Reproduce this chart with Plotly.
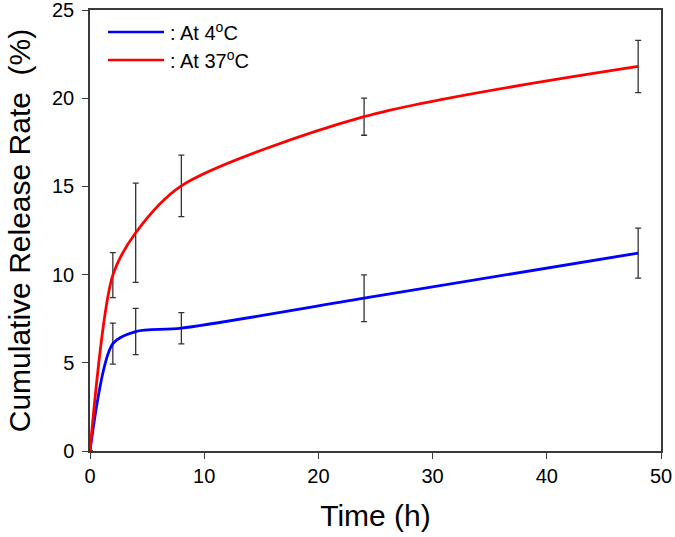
import plotly.graph_objects as go

time_h = [0, 2, 4, 8, 24, 48]
release_4c = [0, 6.09, 6.77, 6.96, 8.66, 11.22]
err_4c = [0, 1.16, 1.31, 0.89, 1.33, 1.42]
release_37c = [0, 9.97, 12.37, 15.03, 18.95, 21.80]
err_37c = [0, 1.28, 2.81, 1.74, 1.05, 1.48]

series_names = [": At 4<sup>o</sup>C", ": At 37<sup>o</sup>C"]
series_colors = ["#0000ff", "#ff0000"]

x_ticks = [0, 10, 20, 30, 40, 50]
y_ticks = [0, 5, 10, 15, 20, 25]

FONT = "Liberation Sans, Arial, sans-serif"
AX = "#3a3a3a"

fig = go.Figure()
for name, ys, es, col in zip(series_names, [release_4c, release_37c],
                             [err_4c, err_37c], series_colors):
    fig.add_trace(go.Scatter(
        x=time_h, y=ys, name=name, mode="lines", showlegend=False,
        line=dict(color=col, width=2.8, shape="spline", smoothing=0.8),
        error_y=dict(type="data", array=es, visible=True, color="#333333",
                     thickness=1.3, width=3),
    ))

# custom legend (line sample + label) in the top-left corner
W, H = 675, 537
L, R, T, B = 90, 14, 10, 86
pw, ph = W - L - R, H - T - B
def px(xp):
    return (xp - L) / pw
def py(yp):
    return 1 - (yp - T) / ph

for i, (name, col) in enumerate(zip(series_names, series_colors)):
    yy = 32 + 28 * i
    fig.add_shape(type="line", xref="paper", yref="paper",
                  x0=px(108), x1=px(164), y0=py(yy), y1=py(yy),
                  line=dict(color=col, width=2.6))
    fig.add_annotation(xref="paper", yref="paper", x=px(168), y=py(yy),
                       xanchor="left", yanchor="middle", showarrow=False,
                       text=name, font=dict(size=20, family=FONT, color="black"))

fig.update_layout(
    width=W, height=H,
    margin=dict(l=L, r=R, t=T, b=B, autoexpand=False),
    paper_bgcolor="white", plot_bgcolor="white",
    font=dict(family=FONT, color="black"),
    showlegend=False,
)
fig.update_xaxes(
    range=[0, 50], tickvals=x_ticks, ticks="outside", ticklen=6, tickwidth=1.2,
    tickcolor=AX, showline=True, linecolor=AX, linewidth=1.5, mirror=True,
    showgrid=False, zeroline=False, tickfont=dict(size=20, family=FONT),
    automargin=False, ticklabeloverflow="allow",
    title=dict(text="Time (h)", font=dict(size=30, family=FONT), standoff=19),
)
fig.update_yaxes(
    range=[0, 25], tickvals=y_ticks, ticks="outside", ticklen=6, tickwidth=1.2,
    tickcolor=AX, showline=True, linecolor=AX, linewidth=1.5, mirror=True,
    showgrid=False, zeroline=False, tickfont=dict(size=20, family=FONT),
    automargin=False, ticklabeloverflow="allow", ticklabelstandoff=4,
    title=dict(text="Cumulative Release Rate  (%)", font=dict(size=30, family=FONT), standoff=13),
)

fig.write_html("out.html", config={"displayModeBar": False},
               post_script="document.body.style.margin='0px';")
